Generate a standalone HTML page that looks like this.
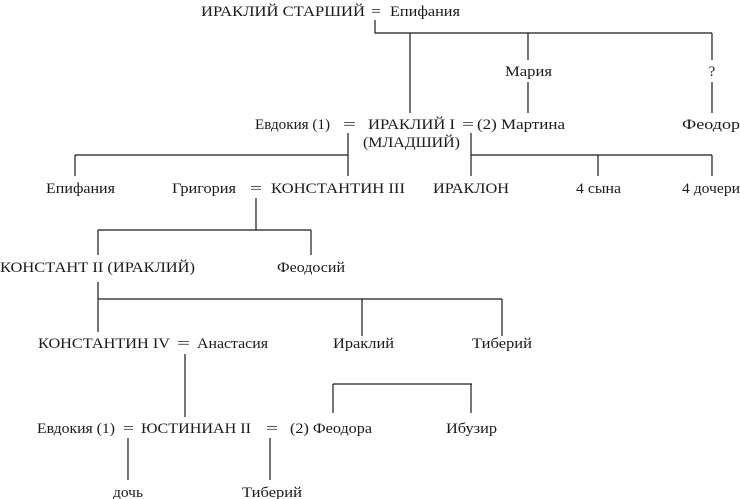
<!DOCTYPE html>
<html><head><meta charset="utf-8"><style>
html,body{margin:0;padding:0;background:#fff;width:740px;height:499px;overflow:hidden}
svg text{font-family:"Liberation Serif",serif;font-size:15px;fill:#1a1a1a}
</style></head><body>
<svg width="740" height="499" viewBox="0 0 740 499" xmlns="http://www.w3.org/2000/svg">
<g stroke="#1a1a1a" stroke-width="1.2" fill="none">
<path d="M375 20V33H712M410 33V113M528 33V60M528 82V113M712 33V60M712 82V113"/>
<path d="M348 133V176M75 155H348M75 155V176M471 133V176M471 155H712M598 155V176M712 155V176"/>
<path d="M256 198V230M98 230H311M98 230V255M311 230V255"/>
<path d="M98 282V332M98 299H502M362 299V336M502 299V336"/>
<path d="M185 354V417M333 384H472M333 384V413M471 384V413"/>
<path d="M128 438V480M270 438V480"/>
</g>
<g>
<text x="201" y="16" textLength="164" lengthAdjust="spacingAndGlyphs">ИРАКЛИЙ СТАРШИЙ</text>
<text x="371" y="16" textLength="10" lengthAdjust="spacingAndGlyphs">=</text>
<text x="390" y="16" textLength="70" lengthAdjust="spacingAndGlyphs">Епифания</text>
<text x="505" y="76" textLength="47" lengthAdjust="spacingAndGlyphs">Мария</text>
<text x="712" y="76" text-anchor="middle">?</text>
<text x="255" y="129" textLength="75" lengthAdjust="spacingAndGlyphs">Евдокия (1)</text>
<text x="343" y="129" textLength="13" lengthAdjust="spacingAndGlyphs">=</text>
<text x="368" y="129" textLength="87" lengthAdjust="spacingAndGlyphs">ИРАКЛИЙ I</text>
<text x="462" y="129" textLength="12" lengthAdjust="spacingAndGlyphs">=</text>
<text x="477" y="129" textLength="88" lengthAdjust="spacingAndGlyphs">(2) Мартина</text>
<text x="363" y="147" textLength="97" lengthAdjust="spacingAndGlyphs">(МЛАДШИЙ)</text>
<text x="682" y="129" textLength="58" lengthAdjust="spacingAndGlyphs">Феодор</text>
<text x="46" y="193" textLength="69" lengthAdjust="spacingAndGlyphs">Епифания</text>
<text x="172" y="193" textLength="64" lengthAdjust="spacingAndGlyphs">Григория</text>
<text x="250" y="193" textLength="12" lengthAdjust="spacingAndGlyphs">=</text>
<text x="271" y="193" textLength="134" lengthAdjust="spacingAndGlyphs">КОНСТАНТИН III</text>
<text x="433" y="193" textLength="76" lengthAdjust="spacingAndGlyphs">ИРАКЛОН</text>
<text x="576" y="193" textLength="45" lengthAdjust="spacingAndGlyphs">4 сына</text>
<text x="682" y="193" textLength="58" lengthAdjust="spacingAndGlyphs">4 дочери</text>
<text x="0" y="272" textLength="195" lengthAdjust="spacingAndGlyphs">КОНСТАНТ II (ИРАКЛИЙ)</text>
<text x="277" y="272" textLength="68" lengthAdjust="spacingAndGlyphs">Феодосий</text>
<text x="38" y="348" textLength="132" lengthAdjust="spacingAndGlyphs">КОНСТАНТИН IV</text>
<text x="177" y="348" textLength="13" lengthAdjust="spacingAndGlyphs">=</text>
<text x="197" y="348" textLength="71" lengthAdjust="spacingAndGlyphs">Анастасия</text>
<text x="333" y="348" textLength="61" lengthAdjust="spacingAndGlyphs">Ираклий</text>
<text x="472" y="348" textLength="60" lengthAdjust="spacingAndGlyphs">Тиберий</text>
<text x="37" y="433" textLength="78" lengthAdjust="spacingAndGlyphs">Евдокия (1)</text>
<text x="123" y="433" textLength="11" lengthAdjust="spacingAndGlyphs">=</text>
<text x="141" y="433" textLength="110" lengthAdjust="spacingAndGlyphs">ЮСТИНИАН II</text>
<text x="266" y="433" textLength="12" lengthAdjust="spacingAndGlyphs">=</text>
<text x="290" y="433" textLength="82" lengthAdjust="spacingAndGlyphs">(2) Феодора</text>
<text x="446" y="433" textLength="51" lengthAdjust="spacingAndGlyphs">Ибузир</text>
<text x="113" y="497" textLength="30" lengthAdjust="spacingAndGlyphs">дочь</text>
<text x="242" y="497" textLength="60" lengthAdjust="spacingAndGlyphs">Тиберий</text>
</g>
</svg>
</body></html>
